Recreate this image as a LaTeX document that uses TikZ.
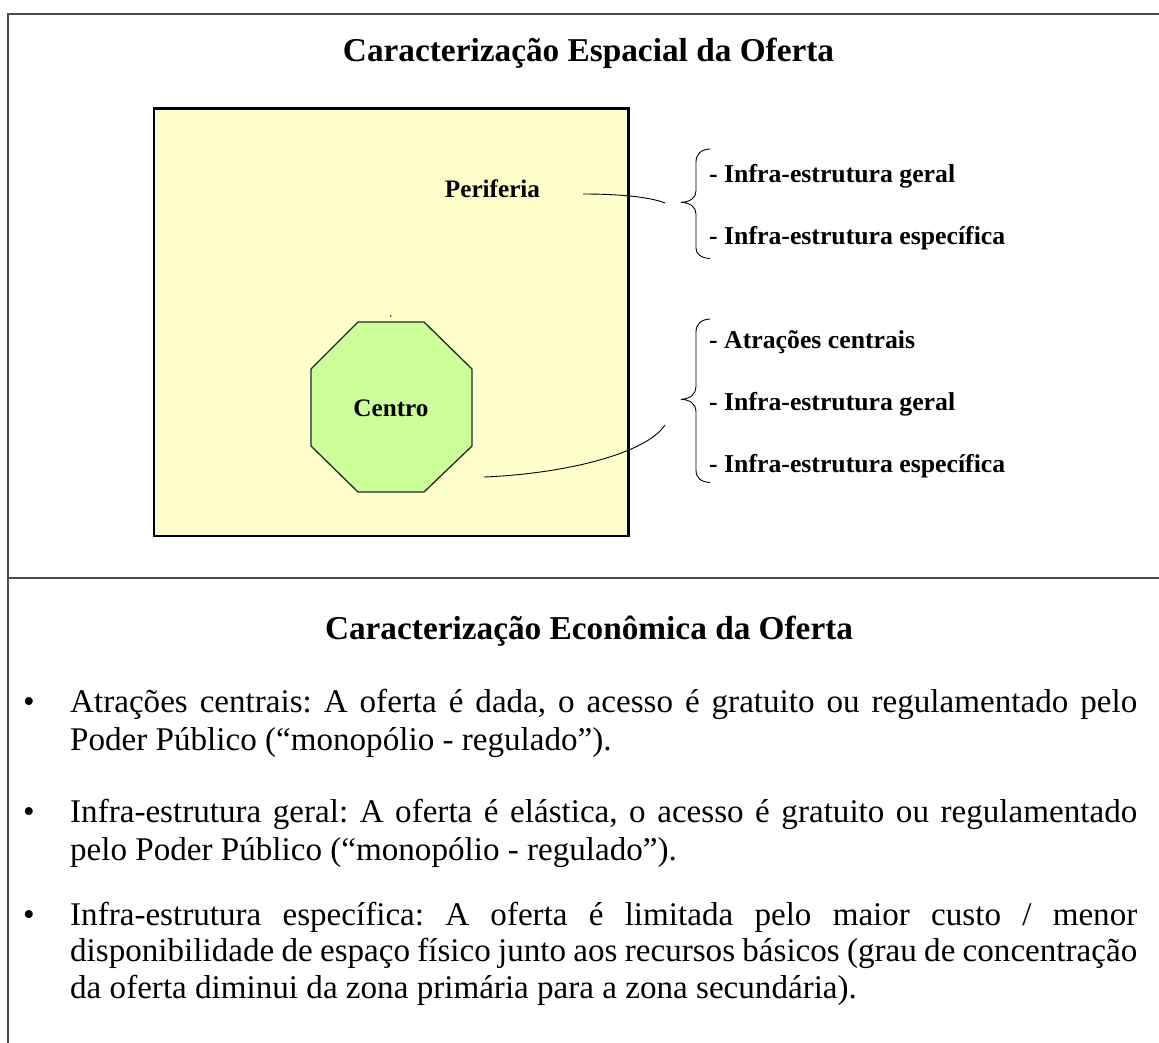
\documentclass[tikz,border=0pt]{standalone}
\usepackage{fontspec}
\setmainfont{Liberation Serif}
\frenchspacing
\begin{document}
\begin{tikzpicture}[x=1bp,y=-1bp,
  frame/.style={draw=black!70, line width=2bp},
  zonebox/.style={draw=black, line width=2.7bp, fill=yellowfill},
  octo/.style={draw=black!85, line width=1.3bp, fill=greenfill},
  conn/.style={draw=black, line width=0.9bp},
  bracepath/.style={draw=black, line width=0.9bp},
  heading/.style={anchor=base, inner sep=0pt, font=\fontsize{33.3bp}{40bp}\selectfont\bfseries},
  zonelabel/.style={anchor=base, inner sep=0pt, font=\fontsize{25.2bp}{30bp}\selectfont\bfseries},
  itemlabel/.style={anchor=base west, inner sep=0pt, font=\fontsize{25.75bp}{30bp}\selectfont\bfseries},
  bodyline/.style={anchor=base west, inner sep=0pt, font=\fontsize{33.1bp}{37.5bp}\selectfont},
  bulletmark/.style={anchor=base, inner sep=0pt, font=\fontsize{33.1bp}{37.5bp}\selectfont}
]
\definecolor{yellowfill}{RGB}{255,255,204}
\definecolor{greenfill}{RGB}{204,255,153}
\useasboundingbox (0,0) rectangle (1159,1043);
\fill[white] (0,0) rectangle (1159,1043);

% outer frame and divider
\draw[frame] (1165,14.3) -- (7.7,14.3) -- (7.7,1050);
\draw[frame] (7.7,578) -- (1165,578);

% headings
\node[heading] (title1) at (588.5,61.7) {Caracterização Espacial da Oferta};
\node[heading] (title2) at (589,639) {Caracterização Econômica da Oferta};

% zone box
\draw[zonebox] (154,108.7) rectangle (628.7,536);
\node[zonelabel] (perif) at (492.5,197.3) {Periferia};

% centre octagon
\draw[octo] (358,322) -- (424,322) -- (472,369) -- (472,446) -- (424,492)
  -- (358,492) -- (311,446) -- (311,369) -- cycle;
\node[zonelabel] (centro) at (391,416.7) {Centro};
\node[inner sep=0pt, font=\fontsize{10bp}{11bp}\selectfont] (tick) at (391,318) {‘};

% braces
\draw[bracepath] (710,149) .. controls (701,149.5) and (696,154) .. (696,162)
  -- (696,191) .. controls (696,198) and (690,202) .. (681,202.3)
  .. controls (690,202.6) and (696,207) .. (696,214)
  -- (696,248) .. controls (696,254) and (701,258) .. (710,258.5);
\draw[bracepath] (710,319) .. controls (701,319.5) and (696,324) .. (696,332)
  -- (696,387) .. controls (696,394) and (690,399) .. (681,399.3)
  .. controls (690,399.6) and (696,404) .. (696,412)
  -- (696,470) .. controls (696,478) and (701,482) .. (710,482.5);

% connectors
\coordinate (p1) at (583,194);
\coordinate (p2) at (665,203);
\coordinate (c1) at (484,477);
\coordinate (c2) at (665,425);
\draw[conn] (p1) .. controls (620,194) and (650,197) .. (p2);
\draw[conn] (c1) .. controls (560,474) and (645,455) .. (c2);

% brace items
\node[itemlabel] (i1) at (709,182.7) {- Infra-estrutura geral};
\node[itemlabel] (i2) at (709,244) {- Infra-estrutura específica};
\node[itemlabel] (i3) at (709,348) {- Atrações centrais};
\node[itemlabel] (i4) at (709,410) {- Infra-estrutura geral};
\node[itemlabel] (i5) at (709,472) {- Infra-estrutura específica};

% bullets
\node[bulletmark] (b1) at (29,712) {•};
\node[bulletmark] (b2) at (29,822) {•};
\node[bulletmark] (b3) at (29,925) {•};

\node[bodyline] (l1) at (70,712) {\makebox[1067bp][s]{Atrações centrais: A oferta é dada, o acesso é gratuito ou regulamentado pelo}};
\node[bodyline] (l2) at (70,750) {Poder Público (“monopólio - regulado”).};
\node[bodyline] (l3) at (70,822) {\makebox[1067bp][s]{Infra-estrutura geral: A oferta é elástica, o acesso é gratuito ou regulamentado}};
\node[bodyline] (l4) at (70,860) {pelo Poder Público (“monopólio - regulado”).};
\node[bodyline] (l5) at (70,925) {\makebox[1067bp][s]{Infra-estrutura específica: A oferta é limitada pelo maior custo / menor}};
\node[bodyline] (l6) at (70,961.7) {\makebox[1067bp][s]{disponibilidade de espaço físico junto aos recursos básicos (grau de concentração}};
\node[bodyline] (l7) at (70,998.3) {da oferta diminui da zona primária para a zona secundária).};
\end{tikzpicture}
\end{document}
